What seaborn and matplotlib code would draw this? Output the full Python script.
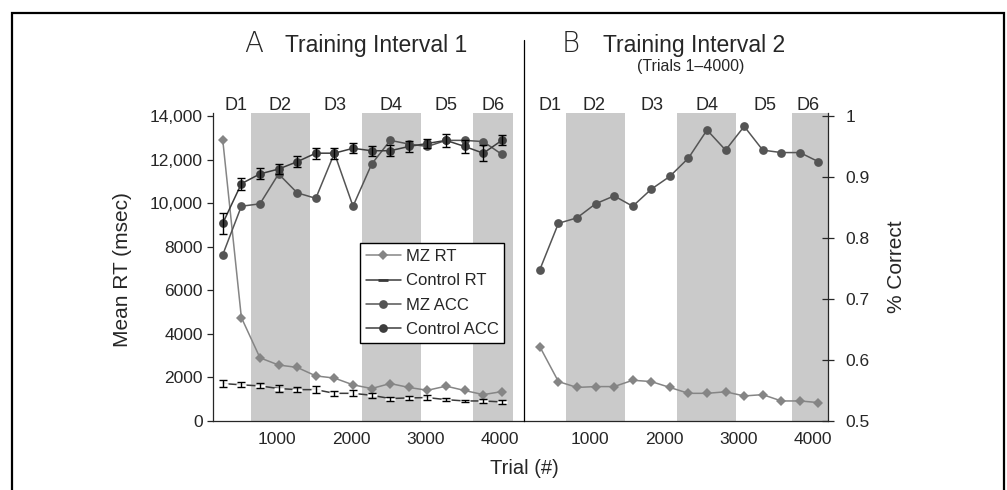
import matplotlib
matplotlib.use("Agg")
import matplotlib.pyplot as plt
import seaborn as sns
import pandas as pd
from matplotlib.lines import Line2D
from matplotlib.patches import Rectangle

# ---------------- data ----------------
trials_a = [275, 525, 775, 1025, 1275, 1525, 1775, 2025, 2275, 2525, 2775, 3025, 3275, 3525, 3775, 4025]
mz_rt_a = [12900, 4750, 2900, 2570, 2460, 2070, 1970, 1660, 1490, 1720, 1540, 1410, 1600, 1400, 1210, 1350]
ctrl_rt_a = [1720, 1660, 1610, 1490, 1440, 1440, 1270, 1270, 1180, 1030, 1060, 1075, 980, 920, 920, 875]
ctrl_rt_err = [180, 115, 115, 170, 115, 175, 100, 130, 115, 90, 90, 105, 55, 40, 75, 85]
mz_acc_a = [0.7725, 0.852, 0.856, 0.905, 0.874, 0.865, 0.939, 0.852, 0.921, 0.960, 0.954, 0.950, 0.960, 0.960, 0.958, 0.937]
ctrl_acc_a = [0.824, 0.889, 0.905, 0.913, 0.925, 0.939, 0.939, 0.947, 0.943, 0.943, 0.950, 0.955, 0.960, 0.950, 0.939, 0.960]
ctrl_acc_err = [0.017, 0.010, 0.009, 0.008, 0.009, 0.009, 0.009, 0.008, 0.008, 0.009, 0.009, 0.007, 0.011, 0.011, 0.013, 0.008]

trials_b = [325, 575, 825, 1075, 1325, 1575, 1825, 2075, 2325, 2575, 2825, 3075, 3325, 3575, 3825, 4075]
mz_acc_b = [0.748, 0.824, 0.833, 0.856, 0.869, 0.852, 0.880, 0.901, 0.931, 0.977, 0.944, 0.983, 0.944, 0.940, 0.940, 0.925]
mz_rt_b = [3410, 1810, 1540, 1580, 1580, 1870, 1810, 1540, 1270, 1270, 1340, 1150, 1210, 920, 920, 845]

day_labels = ["D1", "D2", "D3", "D4", "D5", "D6"]
day_pos_a = [450, 1040, 1780, 2530, 3270, 3910]
day_pos_b = [460, 1060, 1840, 2580, 3360, 3930]
shade_a = [(655, 1450), (2145, 2940), (3637, 4175)]
shade_b = [(677, 1471), (2167, 2961), (3715, 4250)]

rt_ticks = [0, 2000, 4000, 6000, 8000, 10000, 12000, 14000]
rt_ticklabels = ["0", "2000", "4000", "6000", "8000", "10,000", "12,000", "14,000"]
acc_ticks = [0.5, 0.6, 0.7, 0.8, 0.9, 1.0]
acc_ticklabels = ["0.5", "0.6", "0.7", "0.8", "0.9", "1"]
x_ticks = [1000, 2000, 3000, 4000]
legend_labels = ["MZ RT", "Control RT", "MZ ACC", "Control ACC"]

# ---------------- style ----------------
sns.set_style("ticks")
plt.rcParams["font.family"] = ["Liberation Sans", "DejaVu Sans"]

W, H = 1007, 490
fig = plt.figure(figsize=(W / 100, H / 100), dpi=100)

def fx(px):
    return px / W

def fy(py):
    return 1 - py / H

TOP, BOT = 112.7, 421.0
ax_a = fig.add_axes([fx(212.7), fy(BOT), fx(524 - 212.7), (BOT - TOP) / H])
ax_b = fig.add_axes([fx(524), fy(BOT), fx(828 - 524), (BOT - TOP) / H])
ax_a2 = ax_a.twinx()
ax_b2 = ax_b.twinx()

RT_LIM = (0, 14150)
ACC_LIM = (0.5, 1.0 + 0.5 * 150 / 14000)

C_MZRT = "#858585"
C_CRT = "#3a3a3a"
C_MZACC = "#555555"
C_CACC = "#3d3d3d"
SHADE = "#cacaca"

df_a = pd.DataFrame({"trial": trials_a, "mz_rt": mz_rt_a, "ctrl_rt": ctrl_rt_a,
                     "mz_acc": mz_acc_a, "ctrl_acc": ctrl_acc_a})
df_b = pd.DataFrame({"trial": trials_b, "mz_rt": mz_rt_b, "mz_acc": mz_acc_b})

for ax, shades in ((ax_a, shade_a), (ax_b, shade_b)):
    for s0, s1 in shades:
        ax.axvspan(s0, s1, color=SHADE, lw=0, zorder=0)

# Panel A
sns.lineplot(data=df_a, x="trial", y="mz_rt", ax=ax_a, color=C_MZRT, lw=1.1,
             marker="D", markersize=5, markeredgewidth=0, zorder=3)
sns.lineplot(data=df_a, x="trial", y="ctrl_rt", ax=ax_a, color=C_CRT, lw=1.1,
             marker="_", markersize=7, markeredgewidth=2, zorder=3)
ax_a.errorbar(trials_a, ctrl_rt_a, yerr=ctrl_rt_err, fmt="none", ecolor="black",
              elinewidth=1, capsize=3.2, capthick=1, zorder=4)

sns.lineplot(data=df_a, x="trial", y="mz_acc", ax=ax_a2, color=C_MZACC, lw=1.1,
             marker="o", markersize=6.3, markeredgewidth=0, zorder=3)
sns.lineplot(data=df_a, x="trial", y="ctrl_acc", ax=ax_a2, color=C_CACC, lw=1.1,
             marker="o", markersize=6.3, markeredgewidth=0, zorder=3)
ax_a2.errorbar(trials_a, ctrl_acc_a, yerr=ctrl_acc_err, fmt="none", ecolor="black",
               elinewidth=1, capsize=3.2, capthick=1, zorder=4)

# Panel B
sns.lineplot(data=df_b, x="trial", y="mz_rt", ax=ax_b, color=C_MZRT, lw=1.1,
             marker="D", markersize=5, markeredgewidth=0, zorder=3)
sns.lineplot(data=df_b, x="trial", y="mz_acc", ax=ax_b2, color=C_MZACC, lw=1.1,
             marker="o", markersize=6.3, markeredgewidth=0, zorder=3)

# Axes formatting
ax_a.set_xlim(140, 4322)
ax_b.set_xlim(112, 4203)
for ax in (ax_a, ax_b):
    ax.set_ylim(*RT_LIM)
    ax.set_xlabel("")
    ax.set_ylabel("")
    ax.set_xticks(x_ticks)
    ax.set_xticklabels([str(t) for t in x_ticks], fontsize=12.5)
    ax.tick_params(axis="x", length=0, pad=8)
    ax.spines["top"].set_visible(False)
    ax.spines["right"].set_visible(False)
    ax.spines["bottom"].set_linewidth(0.9)
    ax.spines["left"].set_linewidth(0.9)
for ax in (ax_a2, ax_b2):
    ax.set_ylim(*ACC_LIM)
    ax.set_ylabel("")
    for sp in ax.spines.values():
        sp.set_visible(False)

ax_a.set_yticks(rt_ticks)
ax_a.set_yticklabels(rt_ticklabels, fontsize=12.5)
ax_a.tick_params(axis="y", direction="out", length=4, width=0.9, pad=3)
ax_a2.set_yticks([])

ax_b.spines["left"].set_visible(False)
ax_b.set_yticks([])
ax_b2.spines["right"].set_visible(True)
ax_b2.spines["right"].set_linewidth(0.9)
ax_b2.set_yticks(acc_ticks)
ax_b2.set_yticklabels(acc_ticklabels, fontsize=12.5)
ax_b2.tick_params(axis="y", direction="inout", length=9, width=0.9, pad=8)

# Legend
handles = [
    Line2D([], [], color=C_MZRT, lw=1.1, marker="D", markersize=5, markeredgewidth=0),
    Line2D([], [], color=C_CRT, lw=1.1, marker="_", markersize=7, markeredgewidth=2),
    Line2D([], [], color=C_MZACC, lw=1.1, marker="o", markersize=6.3, markeredgewidth=0),
    Line2D([], [], color=C_CACC, lw=1.1, marker="o", markersize=6.3, markeredgewidth=0),
]
leg = ax_a2.legend(handles, legend_labels, loc="upper left", bbox_to_anchor=(0.473, 0.576),
                   borderaxespad=0, fontsize=12, frameon=True, fancybox=False,
                   edgecolor="black", framealpha=1, handlelength=2.1, handletextpad=0.3,
                   labelspacing=0.55, borderpad=0.35)
leg.get_frame().set_linewidth(1.0)
leg.set_zorder(10)

# Day labels
for lab, xp in zip(day_labels, day_pos_a):
    ax_a.text(xp, (BOT - 110) / (BOT - TOP), lab, transform=ax_a.get_xaxis_transform(),
              fontsize=13, ha="center", va="baseline")
for lab, xp in zip(day_labels, day_pos_b):
    ax_b.text(xp, (BOT - 110) / (BOT - TOP), lab, transform=ax_b.get_xaxis_transform(),
              fontsize=13, ha="center", va="baseline")

# Titles
fig.text(fx(254), fy(52), "A", fontsize=20, ha="center", va="baseline",
         family=["DejaVu Sans"], fontweight="light")
fig.text(fx(285), fy(52), "Training Interval 1", fontsize=16.5, ha="left", va="baseline")
fig.text(fx(571), fy(52), "B", fontsize=20, ha="center", va="baseline",
         family=["DejaVu Sans"], fontweight="light")
fig.text(fx(603), fy(52), "Training Interval 2", fontsize=16.5, ha="left", va="baseline")
fig.text(fx(691), fy(66), "(Trials 1\u20134000)", fontsize=11.5, ha="center", va="center")

# Axis labels
fig.text(fx(122), fy(270), "Mean RT (msec)", fontsize=15, rotation=90, ha="center", va="center")
fig.text(fx(897), fy(267), "% Correct", fontsize=15, rotation=90, ha="center", va="center")
fig.text(fx(524), fy(468), "Trial (#)", fontsize=14.5, ha="center", va="center")

# Divider and frame
fig.add_artist(Line2D([fx(524), fx(524)], [fy(40), fy(BOT)], color="black", lw=0.9,
                      transform=fig.transFigure))
fig.add_artist(Rectangle((fx(12), fy(560)), fx(1004 - 12), (560 - 13) / H, fill=False,
                         edgecolor="black", lw=1.6, transform=fig.transFigure))

fig.savefig("out.png", dpi=100)
